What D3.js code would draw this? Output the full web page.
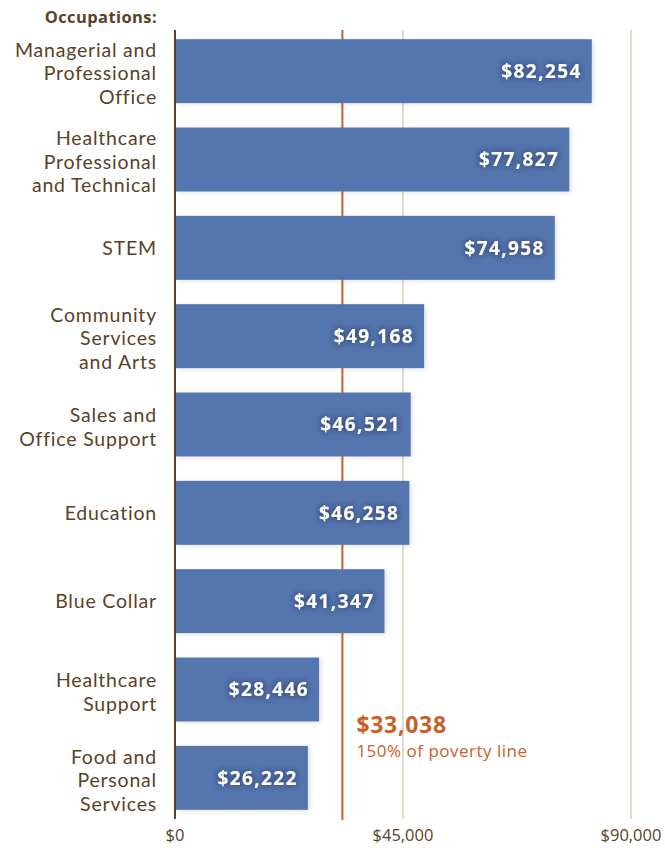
<!DOCTYPE html>
<html><head><meta charset="utf-8">
<script src="https://cdn.jsdelivr.net/npm/d3@7"></script>
<style>
html,body{margin:0;padding:0;background:#fff;}
svg{display:block;font-family:"Open Sans",Lato,sans-serif;}
</style></head>
<body>
<script>
const categories = [
  ["Managerial and","Professional","Office"],
  ["Healthcare","Professional","and Technical"],
  ["STEM"],
  ["Community","Services","and Arts"],
  ["Sales and","Office Support"],
  ["Education"],
  ["Blue Collar"],
  ["Healthcare","Support"],
  ["Food and","Personal","Services"]
];
const values = [82254, 77827, 74958, 49168, 46521, 46258, 41347, 28446, 26222];
const tickValues = [0, 45000, 90000];
const povertyValue = 33038;
const povertyLabel = "150% of poverty line";
const headerLabel = "Occupations:";

(function(){
const W = 665, H = 848;
const brown = "#5b4126", orange = "#c8602a", barColor = "#5475ae", grid = "#d3d1bd";

const svg = d3.select("body").append("svg").attr("width", W).attr("height", H);
const defs = svg.append("defs");
const f = defs.append("filter").attr("id","glow").attr("x","-20%").attr("y","-50%").attr("width","140%").attr("height","200%");
f.append("feGaussianBlur").attr("in","SourceAlpha").attr("stdDeviation",3.2).attr("result","b");
f.append("feFlood").attr("flood-color","#1a2850").attr("flood-opacity",0.9);
f.append("feComposite").attr("in2","b").attr("operator","in").attr("result","s");
const m = f.append("feMerge"); m.append("feMergeNode").attr("in","s"); m.append("feMergeNode").attr("in","SourceGraphic");

const fs = defs.append("filter").attr("id","bshadow").attr("x","-5%").attr("y","-20%").attr("width","115%").attr("height","140%");
fs.append("feDropShadow").attr("dx",2).attr("dy",1).attr("stdDeviation",2).attr("flood-color","#000").attr("flood-opacity",0.12);

const x = d3.scaleLinear().domain([0, 90000]).range([175, 631]);
const idx = d3.range(values.length);
const y = d3.scaleBand().domain(idx).range([27, 822]).paddingInner(0.276).paddingOuter(0.138);
const y0 = 30, y1 = 819;

svg.append("g").selectAll("line").data(tickValues.slice(1)).join("line")
  .attr("x1", d=>x(d)).attr("x2", d=>x(d)).attr("y1", y0).attr("y2", y1)
  .attr("stroke", grid).attr("stroke-width", 1.5);

svg.append("line").attr("x1", x(povertyValue)).attr("x2", x(povertyValue)).attr("y1", y0).attr("y2", y1+1)
  .attr("stroke", orange).attr("stroke-width", 2);

svg.append("g").selectAll("rect").data(idx).join("rect")
  .attr("x", x(0)).attr("y", i=>y(i)).attr("width", i=>x(values[i])-x(0)).attr("height", y.bandwidth())
  .attr("fill", barColor).attr("filter","url(#bshadow)");

svg.append("line").attr("x1", x(0)).attr("x2", x(0)).attr("y1", y0).attr("y2", y1)
  .attr("stroke", brown).attr("stroke-width", 2);

svg.append("g").selectAll("text").data(idx).join("text")
  .attr("x", i=>x(values[i])-10).attr("y", i=>y(i)+y.bandwidth()/2)
  .attr("dy","0.36em").attr("text-anchor","end").attr("fill","#fff")
  .attr("font-weight",700).attr("font-size",19).attr("letter-spacing",1.4).attr("filter","url(#glow)")
  .text(i=>"$"+d3.format(",")(values[i]));

const lh = 23.5;
const cg = svg.append("g").selectAll("g").data(idx).join("g");
cg.each(function(i){
  const lines = categories[i];
  const cy = y(i)+y.bandwidth()/2 + (lines.length>1 ? 2.5 : 0.5);
  d3.select(this).selectAll("text").data(lines).join("text")
    .attr("x",157).attr("y",(l,k)=> cy + (k-(lines.length-1)/2)*lh).attr("dy","0.35em")
    .attr("text-anchor","end").attr("fill",brown)
    .style("font-family","Lato, sans-serif").attr("font-size",19.5).attr("letter-spacing",0.8)
    .text(l=>l);
});

svg.append("text").attr("x",157).attr("y",17).attr("dy","0.35em").attr("text-anchor","end")
  .attr("fill",brown).attr("font-weight",700).attr("font-size",16.5).attr("letter-spacing",0.4).text(headerLabel);

svg.append("g").selectAll("text").data(tickValues).join("text")
  .attr("x", d=>x(d)).attr("y", 835).attr("dy","0.35em").attr("text-anchor","middle")
  .attr("fill",brown).attr("font-size",16.5).text(d=>"$"+d3.format(",")(d));

svg.append("text").attr("x", x(povertyValue)+14).attr("y", 725).attr("dy","0.35em")
  .attr("fill",orange).attr("font-weight",700).attr("font-size",23).attr("letter-spacing",0.7).text("$"+d3.format(",")(povertyValue));
svg.append("text").attr("x", x(povertyValue)+14).attr("y", 751).attr("dy","0.35em")
  .attr("fill",orange).attr("font-size",17).attr("letter-spacing",0.5).text(povertyLabel);
})();
</script>
</body></html>
